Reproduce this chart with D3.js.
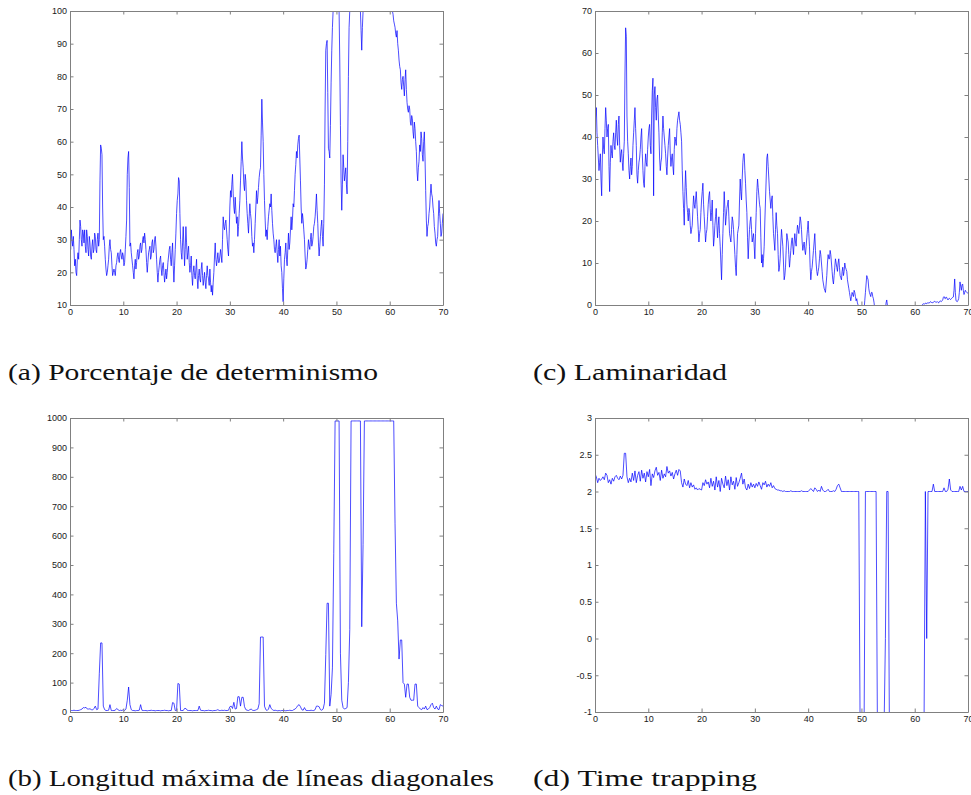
<!DOCTYPE html>
<html><head><meta charset="utf-8">
<script src="https://cdn.jsdelivr.net/npm/d3@7"></script>
<style>body{margin:0;background:#fff;overflow:hidden}</style>
</head><body>
<svg id="chart" width="971" height="795"></svg>
<script>
// sampling steps of the time axis (seconds)
const STEP_FINE = 0.125;
const STEP_COARSE = 0.25;
const xTicks = [0, 10, 20, 30, 40, 50, 60, 70];

// (a) Porcentaje de determinismo — one row per 5 s, step 0.125 s
const determinismo = [
  30,27,33,30,28,31,27,22,24,20,19,24,26,24,30,36,34,30,28,33,32,29,33,28,26,33,31,27,25,31,29,25,24,28,30,26,27,32,31,27,
  26,30,32,28,30,48,59,58,56,40,30,31,28,24,21,19,20,22,24,28,30,27,26,22,19,20,21,20,19,22,23,25,26,24,23,26,27,25,24,26,
  25,22,23,27,31,36,50,55,57,46,28,29,26,24,22,20,18,22,24,21,23,26,27,24,25,28,29,26,27,30,31,29,32,30,27,23,20,23,26,27,
  28,24,25,29,30,26,27,30,31,28,24,20,17,20,22,24,25,21,19,22,23,20,17,19,21,18,20,23,25,27,28,24,22,26,29,22,17,22,27,32,
  38,42,44,49,48,38,30,26,24,29,34,28,22,27,34,29,24,26,28,23,20,22,25,19,16,20,22,19,18,21,24,18,15,19,21,18,17,21,23,19,
  16,18,20,17,15,19,22,19,18,16,21,17,14,16,13,17,20,25,29,24,22,24,26,23,23,25,27,25,23,30,37,34,33,35,36,33,30,27,25,32,
  40,45,43,47,50,44,40,38,43,39,35,37,31,34,38,42,48,54,60,55,52,47,45,50,48,42,38,35,32,37,41,38,36,31,28,29,26,30,35,40,
  45,41,43,46,49,51,52,62,73,66,60,50,42,36,31,33,30,34,37,39,41,40,44,39,35,32,30,27,26,28,30,26,23,27,30,25,28,22,20,15,
  11,18,24,26,29,24,22,27,32,27,29,33,37,33,36,41,40,45,50,53,57,55,59,61,62,55,48,40,35,38,36,33,30,25,21,22,24,27,30,28,
  27,30,32,28,29,31,34,35,37,40,44,39,35,29,25,28,31,34,36,31,28,35,47,70,88,90,91,75,58,57,55,65,78,88,95,100,100,100,100,100,
  100,100,100,100,100,85,65,48,39,47,56,52,48,50,52,47,44,60,80,95,100,100,100,100,100,100,100,100,100,100,100,100,100,100,100,100,100,94,88,95,
  100,100,100,100,100,100,100,100,100,100,100,100,100,100,100,100,100,100,100,100,100,100,100,100,100,100,100,100,100,100,100,100,100,100,100,100,100,100,100,100,
  100,100,100,100,100,99,97,96,95,93,92,94,90,88,85,83,82,78,76,79,80,77,74,79,82,76,72,70,69,71,70,66,65,68,67,63,61,66,64,60,
  57,51,48,52,54,59,57,63,61,56,54,60,63,55,45,36,31,34,35,38,40,44,47,44,43,40,38,34,32,29,28,30,31,37,42,38,35,31,32,35,
  38
];

// (b) Longitud máxima de líneas diagonales — step 0.25 s
const longitudMaxima = [
  5,5,5,6,5,5,5,6,8,10,15,14,16,10,10,11,8,7,12,20,
  8,10,130,235,235,20,8,5,5,6,25,5,5,5,6,12,8,5,6,5,
  8,5,10,40,85,25,8,5,5,4,5,5,6,25,6,5,5,5,4,5,
  5,6,5,5,4,5,5,5,4,5,5,6,5,5,4,5,5,32,30,5,
  5,97,95,5,5,5,12,12,6,5,5,5,4,5,5,5,5,20,6,5,
  5,4,5,5,6,5,5,4,5,5,6,8,5,5,6,5,6,5,5,6,
  18,20,12,33,10,12,52,52,20,50,50,18,8,6,5,8,10,6,5,6,
  8,10,28,255,255,255,20,8,5,10,25,12,8,5,6,5,4,5,4,5,
  5,5,4,5,5,6,5,5,8,10,15,22,25,18,8,6,15,6,5,5,
  5,6,5,5,8,20,20,18,8,6,10,30,195,370,370,20,60,150,540,990,
  990,990,990,200,40,15,10,12,15,100,280,990,990,990,990,990,990,990,990,290,
  570,990,990,990,990,990,990,990,990,990,990,990,990,990,990,990,990,990,990,990,
  990,990,990,990,640,370,310,180,245,245,100,95,50,95,95,50,40,40,40,95,
  95,20,15,10,8,15,10,20,8,10,15,25,30,15,10,20,10,8,25,22,
  20
];

// (c) Laminaridad — step 0.125 s
const laminaridad = [
  43,45,47,41,38,35,32,34,36,30,26,35,40,37,36,42,47,44,40,42,43,33,27,34,38,36,35,39,41,38,37,41,44,40,38,43,45,38,34,36,
  37,34,32,36,39,55,66,64,45,39,36,32,30,33,35,31,33,38,41,44,47,42,38,31,29,32,34,35,37,40,42,36,32,29,28,33,36,34,33,37,
  40,42,43,38,36,45,51,54,26,50,52,47,44,49,50,45,41,35,32,34,35,41,45,42,40,38,36,33,31,35,38,40,42,36,33,35,36,33,31,37,
  40,39,38,42,44,45,46,44,43,41,39,32,27,23,19,27,32,28,24,22,20,23,22,19,17,18,19,23,26,24,23,25,27,24,21,18,15,17,18,22,
  25,27,29,24,21,18,15,17,18,21,24,26,27,23,20,22,25,19,14,16,19,21,23,19,16,19,21,17,14,10,6,12,17,22,27,23,19,21,23,24,
  25,21,17,16,15,18,21,20,18,15,12,9,7,12,17,18,19,25,30,27,25,30,34,36,36,32,29,25,22,16,11,15,18,20,21,18,15,16,17,14,
  11,17,22,27,30,28,26,24,23,16,10,12,9,11,14,20,25,30,35,36,33,30,27,25,23,25,26,21,17,15,13,18,22,19,17,12,8,9,11,15,
  18,16,14,10,6,7,9,13,17,16,15,12,9,11,13,15,16,14,12,15,17,15,14,17,19,18,17,19,21,20,18,15,13,14,15,13,12,14,16,18,
  20,17,14,9,6,8,9,11,13,15,17,13,10,8,7,8,9,11,13,12,10,8,6,5,4,3.5,3,5,7,10,12,11,11,13,12,10,8,6,5,7,
  9,11,10,9,8,10,11,9,7,6.5,6,8,9,7,8,10,9,8.5,8,6,5,4,3,2,1,2,3,2.5,2,3.5,3,2,1,1.5,0.5,0,-1,-1,-1,-1,
  -1,-1,-1,-1,-1,1,3,5,7,6.5,6,4,3,2.5,2,3,3,2,1.5,0.5,-1,-1,-1,-1,-1,-1,-1,-1,-1,-1,-1,-1,-1,-1,-1,-1,-1,0.5,1.2,0,
  -1,-1,-1,-1,-1,-1,-1,-1,-1,-1,-1,-1,-1,-1,-1,-1,-1,-1,-1,-1,-1,-1,-1,-1,-1,-1,-1,-1,-1,-1,-1,-1,-1,-1,-1,-1,-1,-1,-1,-1,
  -1,-1,-1,-1,-1,-1,-1,-1,-1,-1,-1,-0.4,0.2,0.3,0.3,0.2,0.4,0.5,0.3,0.4,0.6,0.4,0.5,0.7,0.8,0.6,0.6,0.5,0.7,0.8,0.9,0.7,0.6,0.7,0.8,0.6,0.5,0.8,1.0,0.9,
  0.8,1.0,1.2,1.8,2.0,1.6,1.5,1.9,1.8,1.4,1.2,1.5,1.6,1.4,1.3,1.5,1.7,1.8,1.9,3.5,6.2,3.0,1.0,0.9,0.8,1.1,1.5,3.0,5.5,4.5,3.5,4.8,5.0,3.5,2.5,3.0,3.5,3.2,3.0,2.9,
  2.8
];

// (d) Time trapping — step 0.25 s
const timeTrapping = [
  2.24,2.20,2.12,2.18,2.15,2.17,2.20,2.16,2.25,2.22,2.12,2.16,2.10,2.18,2.14,2.20,2.22,2.18,2.16,2.21,
  2.17,2.22,2.52,2.52,2.20,2.12,2.18,2.13,2.25,2.15,2.28,2.12,2.22,2.27,2.14,2.29,2.18,2.25,2.13,2.27,
  2.20,2.30,2.08,2.24,2.19,2.28,2.33,2.22,2.26,2.15,2.29,2.18,2.24,2.20,2.34,2.25,2.28,2.21,2.26,2.17,
  2.24,2.29,2.22,2.30,2.28,2.12,2.06,2.17,2.10,2.08,2.15,2.05,2.12,2.06,2.09,2.03,2.05,2.02,2.04,2.03,
  2.02,2.12,2.08,2.16,2.10,2.13,2.05,2.18,2.07,2.14,2.02,2.20,2.06,2.15,2.00,2.18,2.10,2.05,2.21,2.08,
  2.16,2.02,2.20,2.09,2.14,2.03,2.19,2.07,2.12,2.18,2.25,2.10,2.17,2.05,2.02,2.10,2.04,2.12,2.06,2.10,
  2.05,2.11,2.07,2.13,2.08,2.03,2.12,2.09,2.14,2.06,2.10,2.07,2.12,2.05,2.08,2.04,2.03,2.02,2.02,2.01,
  2.01,2.00,2.01,2.00,2.00,2.00,2.00,2.01,2.00,2.00,2.00,2.00,2.00,2.00,2.00,2.01,2.00,2.00,2.00,2.00,
  2.00,2.02,2.04,2.02,2.00,2.05,2.03,2.00,2.02,2.00,2.07,2.02,2.00,2.00,2.01,2.03,2.00,2.00,2.00,2.01,
  2.00,2.03,2.08,2.10,2.05,2.00,2.00,2.00,2.00,2.00,2.00,2.00,2.00,2.00,2.00,2.00,2.00,2.00,2.00,-1.2,
  -1.2,-1.2,-1.2,2,2,2,2,2,2,2,2,2,-1.2,-1.2,-1.2,-1.2,-1.2,-1.2,0,2,
  2,-1.2,-1.2,-1.2,-1.2,-1.2,-1.2,-1.2,-1.2,-1.2,-1.2,-1.2,-1.2,-1.2,-1.2,-1.2,-1.2,-1.2,-1.2,-1.2,
  -1.2,-1.2,-1.2,-1.2,-1.2,-1.2,-1.2,-1.2,2,0,2,2,2,2,2.1,2,2,2,2,2,
  2,2,2.05,2,2,2.03,2.17,2.02,2,2,2,2,2,2,2.07,2.02,2.07,2,2,2,
  2
];

const yTicksA = [10,20,30,40,50,60,70,80,90,100];
const yTicksB = [0,100,200,300,400,500,600,700,800,900,1000];
const yTicksC = [0,10,20,30,40,50,60,70];
const yTicksD = [-1,-0.5,0,0.5,1,1.5,2,2.5,3];

const captions = [
  "(a) Porcentaje de determinismo",
  "(b) Longitud máxima de líneas diagonales",
  "(c) Laminaridad",
  "(d) Time trapping"
];

const W = 373, H = 294;
const panels = [
  {values: determinismo,   step: STEP_FINE,   yDomain: [10,100], yTicks: yTicksA, left: 70,  top: 11,  cap: captions[0], capX: 8,   capY: 380, capW: 370},
  {values: longitudMaxima, step: STEP_COARSE, yDomain: [0,1000], yTicks: yTicksB, left: 70,  top: 418, cap: captions[1], capX: 8,   capY: 786, capW: 486},
  {values: laminaridad,    step: STEP_FINE,   yDomain: [0,70],   yTicks: yTicksC, left: 595, top: 11,  cap: captions[2], capX: 533, capY: 380, capW: 194},
  {values: timeTrapping,   step: STEP_COARSE, yDomain: [-1,3],   yTicks: yTicksD, left: 595, top: 418, cap: captions[3], capX: 533, capY: 786, capW: 224}
];

const svg = d3.select("#chart");
const fmt = d => String(d);

panels.forEach((p, k) => {
  const g = svg.append("g").attr("transform", `translate(${p.left},${p.top})`);
  const x = d3.scaleLinear().domain([0, 70]).range([0, W]);
  const y = d3.scaleLinear().domain(p.yDomain).range([H, 0]);

  const cid = "clip" + k;
  g.append("clipPath").attr("id", cid)
    .append("rect").attr("x", 0).attr("y", 0).attr("width", W).attr("height", H);

  const line = d3.line().x((d, i) => x(i * p.step)).y(d => y(d));
  g.append("path").datum(p.values)
    .attr("clip-path", `url(#${cid})`)
    .attr("fill", "none")
    .attr("stroke", "#0000ff")
    .attr("stroke-width", 0.7)
    .attr("stroke-linejoin", "round")
    .attr("d", line);

  const styleAxis = sel => {
    sel.selectAll(".domain").attr("stroke", "#808080");
    sel.selectAll(".tick line").attr("stroke", "#808080");
    sel.selectAll("text").attr("fill", "#1a1a1a")
      .style("font-family", "'Liberation Sans', Arial, sans-serif")
      .style("font-size", "9px");
  };

  g.append("g").attr("transform", `translate(0,${H})`)
    .call(d3.axisBottom(x).tickValues(xTicks).tickSize(-3.5).tickSizeOuter(0).tickPadding(4).tickFormat(fmt))
    .call(styleAxis);
  g.append("g")
    .call(d3.axisTop(x).tickValues(xTicks).tickSize(-3.5).tickSizeOuter(0).tickFormat(""))
    .call(styleAxis);
  g.append("g")
    .call(d3.axisLeft(y).tickValues(p.yTicks).tickSize(-3.5).tickSizeOuter(0).tickPadding(3).tickFormat(fmt))
    .call(styleAxis);
  g.append("g").attr("transform", `translate(${W},0)`)
    .call(d3.axisRight(y).tickValues(p.yTicks).tickSize(-3.5).tickSizeOuter(0).tickFormat(""))
    .call(styleAxis);

  svg.append("text")
    .attr("x", p.capX).attr("y", p.capY)
    .attr("textLength", p.capW).attr("lengthAdjust", "spacingAndGlyphs")
    .style("font-family", "'Liberation Serif', 'DejaVu Serif', serif")
    .style("font-size", "24px")
    .attr("fill", "#111")
    .text(p.cap);
});
</script>
</body></html>
